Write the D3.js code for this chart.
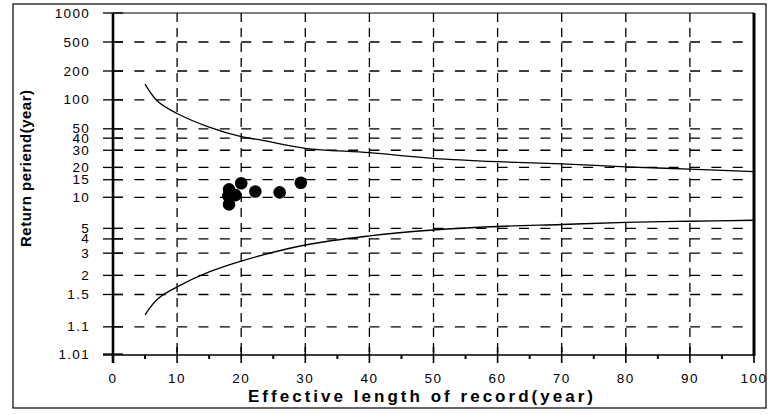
<!DOCTYPE html>
<html>
<head>
<meta charset="utf-8">
<script src="https://cdn.jsdelivr.net/npm/d3@7"></script>
<style>
  body { margin: 0; background: #fff; }
  svg { display: block; }
</style>
</head>
<body>
<svg id="chart" width="770" height="415"></svg>
<script>
// tick labels
var xTicks = [0, 10, 20, 30, 40, 50, 60, 70, 80, 90, 100];
var xMinor = [5, 15, 25, 35, 45, 55, 65, 75, 85, 95];
var yTicks = [1000, 500, 200, 100, 50, 40, 30, 20, 15, 10, 5, 4, 3, 2, 1.5, 1.1, 1.01];

// control curves (record length, return period)
var upperN = [5, 7, 10, 15, 20, 23, 30, 40, 50, 60, 70, 80, 90, 100];
var upperT = [146, 96, 72, 52, 41.4, 38.3, 31.4, 28.3, 24.8, 22.9, 21.7, 20.3, 19.2, 18.1];
var lowerN = [5, 7, 10, 15, 20, 30, 40, 50, 60, 70, 80, 90, 100];
var lowerT = [1.2, 1.42, 1.67, 2.12, 2.58, 3.53, 4.26, 4.83, 5.21, 5.44, 5.69, 5.84, 5.97];

// stations
var ptsN = [18.1, 18.0, 19.1, 18.1, 20.0, 22.2, 26.0, 29.3];
var ptsT = [12.0, 10.3, 10.5, 8.5, 13.8, 11.4, 11.2, 14.0];

// gumbel reduced variate for a return period
function g(T) { return -Math.log(-Math.log(1 - 1 / T)); }

var svg = d3.select("#chart");
var plotLeft = 113, plotRight = 754, plotTop = 13, plotBottom = 354;

var x = d3.scaleLinear().domain([0, 100]).range([plotLeft, plotRight]);
var y = d3.scaleLinear()
  .domain([g(1.01), g(200), g(500), g(1000)])
  .range([plotBottom, 71, 42, plotTop]);

// outer frame
svg.append("rect")
  .attr("x", 13).attr("y", 4).attr("width", 753).attr("height", 404)
  .attr("fill", "none").attr("stroke", "#000").attr("stroke-width", 1.2);

// horizontal grid
svg.append("g").selectAll("line")
  .data(yTicks.filter(function (d) { return d != 1000 && d != 1.01; }))
  .join("line")
  .attr("x1", plotLeft).attr("x2", plotRight)
  .attr("y1", function (d) { return y(g(d)); })
  .attr("y2", function (d) { return y(g(d)); })
  .attr("stroke", "#000").attr("stroke-width", 1.3)
  .attr("stroke-dasharray", "10,11.37");

// vertical grid
svg.append("g").selectAll("line")
  .data(xTicks.filter(function (d) { return d > 0 && d < 100; }))
  .join("line")
  .attr("x1", function (d) { return x(d); })
  .attr("x2", function (d) { return x(d); })
  .attr("y1", plotTop).attr("y2", plotBottom)
  .attr("stroke", "#000").attr("stroke-width", 1.3)
  .attr("stroke-dasharray", "9,6");

// top and right borders
svg.append("line")
  .attr("x1", plotLeft).attr("x2", plotRight).attr("y1", plotTop).attr("y2", plotTop)
  .attr("stroke", "#000").attr("stroke-width", 1.2);
svg.append("line")
  .attr("x1", plotRight).attr("x2", plotRight).attr("y1", plotTop).attr("y2", plotBottom + 2)
  .attr("stroke", "#000").attr("stroke-width", 3);

// curves
var line = d3.line()
  .x(function (d) { return x(d[0]); })
  .y(function (d) { return y(g(d[1])); })
  .curve(d3.curveCatmullRom);

svg.append("path")
  .datum(d3.zip(upperN, upperT))
  .attr("d", line)
  .attr("fill", "none").attr("stroke", "#000").attr("stroke-width", 1.3);
svg.append("path")
  .datum(d3.zip(lowerN, lowerT))
  .attr("d", line)
  .attr("fill", "none").attr("stroke", "#000").attr("stroke-width", 1.3);

// points
svg.append("g").selectAll("circle")
  .data(d3.zip(ptsN, ptsT))
  .join("circle")
  .attr("cx", function (d) { return x(d[0]); })
  .attr("cy", function (d) { return y(g(d[1])); })
  .attr("r", 6.3)
  .attr("fill", "#000");

// y axis
svg.append("line")
  .attr("x1", plotLeft).attr("x2", plotLeft).attr("y1", plotTop).attr("y2", plotBottom + 9)
  .attr("stroke", "#000").attr("stroke-width", 2.6);
svg.append("g").selectAll("line")
  .data(yTicks)
  .join("line")
  .attr("x1", plotLeft - 10).attr("x2", plotLeft + 10)
  .attr("y1", function (d) { return y(g(d)); })
  .attr("y2", function (d) { return y(g(d)); })
  .attr("stroke", "#000").attr("stroke-width", 1.3);
svg.append("g").selectAll("text")
  .data(yTicks)
  .join("text")
  .attr("x", 90)
  .attr("y", function (d) { return y(g(d)) + 4.5; })
  .attr("text-anchor", "end")
  .attr("font-family", "Liberation Sans, Arial, sans-serif")
  .attr("font-size", "13.5px")
  .attr("letter-spacing", "1.3px")
  .text(function (d) { return d; });

// x axis
svg.append("line")
  .attr("x1", plotLeft - 10).attr("x2", plotRight).attr("y1", plotBottom + 1).attr("y2", plotBottom + 1)
  .attr("stroke", "#000").attr("stroke-width", 1.5);
svg.append("g").selectAll("line")
  .data(xTicks)
  .join("line")
  .attr("x1", function (d) { return x(d); })
  .attr("x2", function (d) { return x(d); })
  .attr("y1", plotBottom - 7).attr("y2", plotBottom + 9)
  .attr("stroke", "#000").attr("stroke-width", 1.6);
svg.append("g").selectAll("line")
  .data(xMinor)
  .join("line")
  .attr("x1", function (d) { return x(d); })
  .attr("x2", function (d) { return x(d); })
  .attr("y1", plotBottom + 1).attr("y2", plotBottom + 5)
  .attr("stroke", "#000").attr("stroke-width", 2);
svg.append("g").selectAll("text")
  .data(xTicks)
  .join("text")
  .attr("x", function (d) { return x(d); })
  .attr("y", 383)
  .attr("text-anchor", "middle")
  .attr("font-family", "Liberation Sans, Arial, sans-serif")
  .attr("font-size", "13.5px")
  .attr("letter-spacing", "1.5px")
  .text(function (d) { return d; });

// titles
svg.append("text")
  .attr("x", 248).attr("y", 402)
  .attr("textLength", 345).attr("lengthAdjust", "spacing")
  .attr("font-family", "Liberation Sans, Arial, sans-serif")
  .attr("font-size", "17px").attr("font-weight", "bold")
  .text("Effective length of record(year)");

svg.append("text")
  .attr("transform", "translate(31,247) rotate(-90)")
  .attr("textLength", 157).attr("lengthAdjust", "spacing")
  .attr("font-family", "Liberation Sans, Arial, sans-serif")
  .attr("font-size", "15px").attr("font-weight", "bold")
  .text("Return periend(year)");
</script>
</body>
</html>
